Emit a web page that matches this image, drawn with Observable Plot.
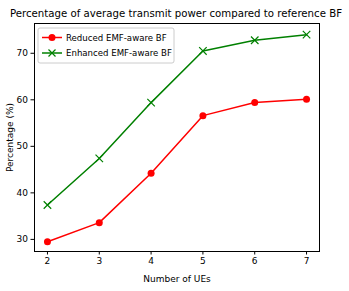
<!DOCTYPE html>
<html><head><meta charset="utf-8">
<script src="https://cdn.jsdelivr.net/npm/d3@7"></script>
<script src="https://cdn.jsdelivr.net/npm/@observablehq/plot@0.6"></script>
<style>body{margin:0;background:#fff;font-family:"DejaVu Sans",sans-serif}</style>
</head><body><div id="chart"></div>
<script>
const ues = [2, 3, 4, 5, 6, 7];
const reduced = [29.5, 33.6, 44.2, 56.6, 59.4, 60.1];
const enhanced = [37.4, 47.4, 59.4, 70.5, 72.8, 74.0];
const seriesNames = ["Reduced EMF-aware BF", "Enhanced EMF-aware BF"];
const seriesColors = ["#ff0000", "#008000"];
const xTicks = [2, 3, 4, 5, 6, 7];
const yTicks = [30, 40, 50, 60, 70];
const title = "Percentage of average transmit power compared to reference BF";

const data = [];
ues.forEach((u, i) => {
  data.push({ue: u, v: reduced[i], s: seriesNames[0]});
  data.push({ue: u, v: enhanced[i], s: seriesNames[1]});
});
const red = data.filter(d => d.s === seriesNames[0]);
const green = data.filter(d => d.s === seriesNames[1]);

const plot = Plot.plot({
  width: 349, height: 291,
  marginLeft: 34, marginRight: 30, marginTop: 23, marginBottom: 40,
  style: {fontFamily: "DejaVu Sans", fontSize: "9px", color: "#000", background: "#fff", overflow: "visible"},
  x: {domain: [1.75, 7.25]},
  y: {domain: [27.4, 76.4]},
  marks: [
    Plot.line(red, {x: "ue", y: "v", stroke: seriesColors[0], strokeWidth: 1.5}),
    Plot.dot(red, {x: "ue", y: "v", fill: seriesColors[0], r: 3.5}),
    Plot.line(green, {x: "ue", y: "v", stroke: seriesColors[1], strokeWidth: 1.5}),
    Plot.dot(green, {x: "ue", y: "v", symbol: "times", stroke: seriesColors[1], r: 3.5, strokeWidth: 1.2}),
    Plot.frame({stroke: "#000", strokeWidth: 1}),
    Plot.axisX({ticks: xTicks, tickSize: 3.5, tickPadding: 3, label: "Number of UEs", labelArrow: "none", labelAnchor: "center", labelOffset: 30, tickFormat: d => d}),
    Plot.axisY({ticks: yTicks, tickSize: 3.5, tickPadding: 3, label: "Percentage (%)", labelArrow: "none", labelAnchor: "center", labelOffset: 28})
  ]
});

const svg = d3.select(plot);
svg.append("text").attr("x", 176).attr("y", 13).attr("dy", "0.35em")
  .attr("text-anchor", "middle").attr("font-size", "10.2px").attr("fill", "#000").text(title);
const g = svg.append("g").attr("transform", "translate(38,28)");
g.append("rect").attr("width", 136).attr("height", 35).attr("rx", 2)
  .attr("fill", "#fff").attr("fill-opacity", 0.8).attr("stroke", "#ccc");
seriesNames.forEach((name, i) => {
  const y = 9.5 + i * 15.5;
  g.append("line").attr("x1", 4).attr("x2", 24).attr("y1", y).attr("y2", y)
    .attr("stroke", seriesColors[i]).attr("stroke-width", 1.5);
  if (i === 0) {
    g.append("circle").attr("cx", 14).attr("cy", y).attr("r", 3.5).attr("fill", seriesColors[i]);
  } else {
    g.append("path").attr("d", `M10.5,${y-3.5}L17.5,${y+3.5}M10.5,${y+3.5}L17.5,${y-3.5}`)
      .attr("stroke", seriesColors[i]).attr("stroke-width", 1.2);
  }
  g.append("text").attr("x", 28).attr("y", y).attr("dy", "0.35em").attr("text-anchor", "start")
    .attr("font-size", "8.6px").attr("fill", "#000").text(name);
});
document.getElementById("chart").appendChild(plot);
</script></body></html>
